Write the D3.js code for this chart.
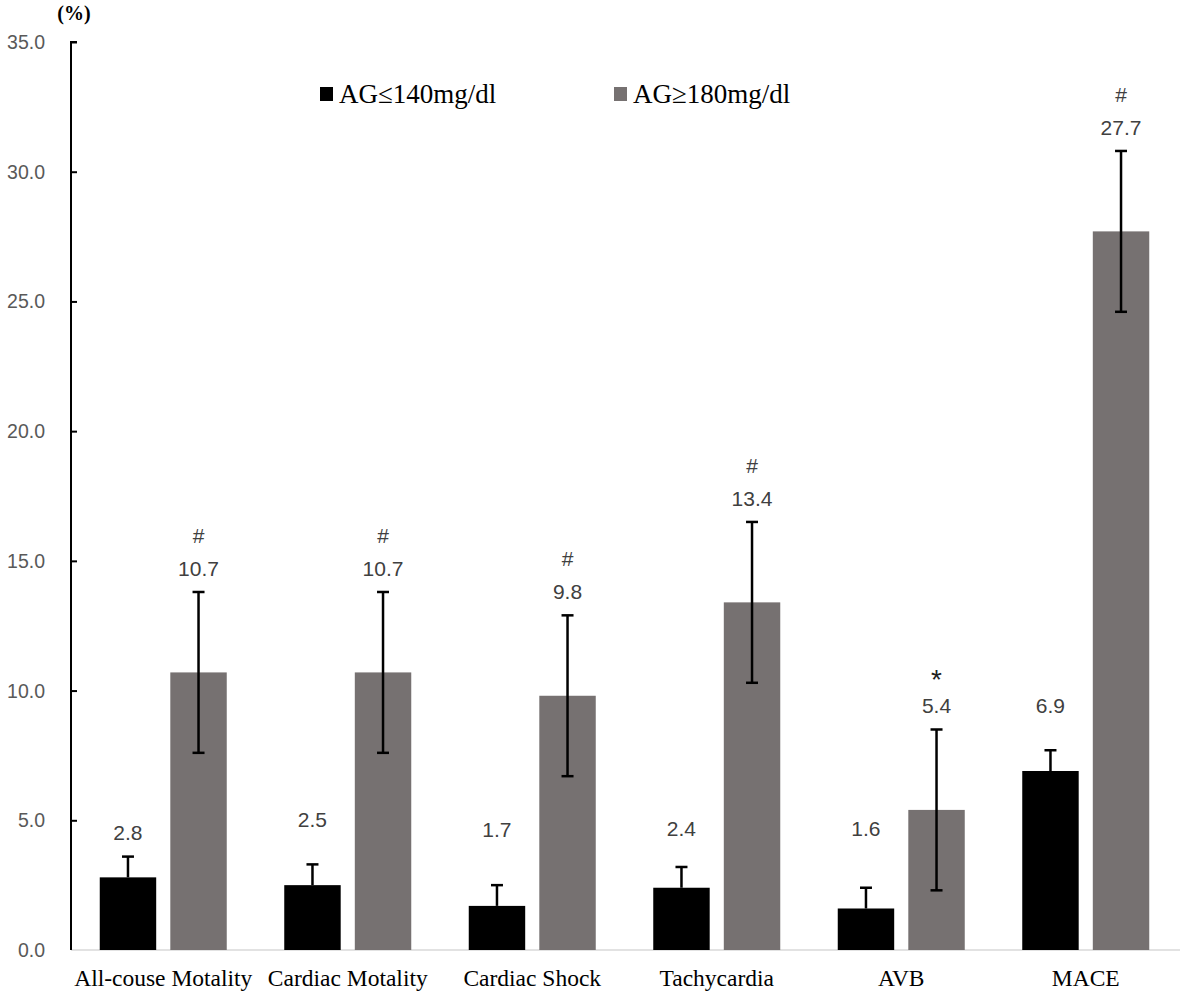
<!DOCTYPE html>
<html>
<head>
<meta charset="utf-8">
<script src="https://cdn.jsdelivr.net/npm/d3@7"></script>
<style>
  html, body { margin: 0; padding: 0; background: #fff; }
  svg { display: block; }
</style>
</head>
<body>
<div id="chart"></div>
<script>
// ---- data ----
const categories = ["All-couse Motality", "Cardiac Motality", "Cardiac Shock", "Tachycardia", "AVB", "MACE"];
const seriesNames = ["AG\u2264140mg/dl", "AG\u2265180mg/dl"];
const lowValues  = [2.8, 2.5, 1.7, 2.4, 1.6, 6.9];
const highValues = [10.7, 10.7, 9.8, 13.4, 5.4, 27.7];
const lowErrors  = [0.8, 0.8, 0.8, 0.8, 0.8, 0.8];
const highErrors = [3.1, 3.1, 3.1, 3.1, 3.1, 3.1];
const highMarks  = ["#", "#", "#", "#", "*", "#"];
// where the value labels of the low group sit (in % units)
const lowLabelAt = [4.55, 5.05, 4.63, 4.7, 4.7, 9.44];
const yTicks = [0, 5, 10, 15, 20, 25, 30, 35];

// ---- layout ----
const W = 1181, H = 995;
const svg = d3.select("#chart").append("svg").attr("width", W).attr("height", H);

const x = d3.scaleBand().domain(categories).range([71, 1178]).paddingInner(0).paddingOuter(0);
const bw = x.bandwidth();
const x1 = d3.scaleBand().domain(seriesNames).range([bw / 2 - 63.5, bw / 2 + 63.5]).paddingInner(0.2).paddingOuter(0);
const y = d3.scaleLinear().domain([0, 35]).range([950, 42]);
const colors = ["#000000", "#767171"];

// baseline
svg.append("line").attr("x1", 71).attr("x2", 1180).attr("y1", y(0)).attr("y2", y(0))
  .attr("stroke", "#d9d9d9").attr("stroke-width", 1.5);

// y axis
const yAxis = d3.axisRight(y).tickValues(yTicks).tickSize(6).tickFormat("");
const gy = svg.append("g").attr("transform", "translate(71,0)").call(yAxis);
gy.select(".domain").attr("stroke", "#000").attr("stroke-width", 2).attr("d", `M6,${y(35)}H0V${y(0)}`);
gy.selectAll(".tick line").attr("stroke", "#000").attr("stroke-width", 2);
gy.selectAll(".tick").filter(d => d === 0).select("line").remove();

// tick labels
svg.append("g").selectAll("text").data(yTicks).join("text")
  .attr("x", 45).attr("y", d => y(d)).attr("dy", "0.36em")
  .attr("text-anchor", "end")
  .attr("font-family", "Liberation Sans, Arial, sans-serif")
  .attr("font-size", 19.5)
  .attr("fill", "#595959")
  .text(d => d3.format(".1f")(d));

// (%) unit
svg.append("text").attr("x", 74).attr("y", 20).attr("text-anchor", "middle")
  .attr("font-family", "Liberation Serif, Times New Roman, serif")
  .attr("font-weight", "bold").attr("font-size", 20).attr("fill", "#000")
  .text("(%)");

// bars
const rows = categories.map((c, i) => ({
  cat: c, i,
  vals: [
    { s: seriesNames[0], v: lowValues[i], e: lowErrors[i], k: 0 },
    { s: seriesNames[1], v: highValues[i], e: highErrors[i], k: 1 }
  ]
}));

const groups = svg.append("g").selectAll("g").data(rows).join("g")
  .attr("transform", d => `translate(${x(d.cat)},0)`);

groups.selectAll("rect").data(d => d.vals).join("rect")
  .attr("x", d => x1(d.s)).attr("width", x1.bandwidth())
  .attr("y", d => y(d.v)).attr("height", d => y(0) - y(d.v))
  .attr("fill", d => colors[d.k]);

// error bars
const capW = 12;
groups.selectAll("g.err").data(d => d.vals).join("g").attr("class", "err")
  .each(function (d) {
    const g = d3.select(this);
    const cx = x1(d.s) + x1.bandwidth() / 2;
    const lo = d.k === 0 ? d.v : d.v - d.e;
    g.append("line").attr("x1", cx).attr("x2", cx).attr("y1", y(lo)).attr("y2", y(d.v + d.e))
      .attr("stroke", "#000").attr("stroke-width", 2.5);
    g.append("line").attr("x1", cx - capW / 2).attr("x2", cx + capW / 2)
      .attr("y1", y(d.v + d.e)).attr("y2", y(d.v + d.e))
      .attr("stroke", "#000").attr("stroke-width", 2.5);
    if (d.k === 1) {
      g.append("line").attr("x1", cx - capW / 2).attr("x2", cx + capW / 2)
        .attr("y1", y(lo)).attr("y2", y(lo))
        .attr("stroke", "#000").attr("stroke-width", 2.5);
    }
  });

// value labels
const valueFont = "Liberation Sans, Arial, sans-serif";
groups.each(function (d) {
  const g = d3.select(this);
  const cLow = x1(seriesNames[0]) + x1.bandwidth() / 2;
  const cHigh = x1(seriesNames[1]) + x1.bandwidth() / 2;
  g.append("text").attr("x", cLow).attr("y", y(lowLabelAt[d.i])).attr("dy", "0.36em")
    .attr("text-anchor", "middle").attr("font-family", valueFont).attr("font-size", 21)
    .attr("fill", "#404040").text(d3.format(".1f")(lowValues[d.i]));
  const hy = y(highValues[d.i] + highErrors[d.i]) - 24;
  g.append("text").attr("x", cHigh).attr("y", hy).attr("dy", "0.36em")
    .attr("text-anchor", "middle").attr("font-family", valueFont).attr("font-size", 21)
    .attr("fill", "#404040").text(d3.format(".1f")(highValues[d.i]));
  const isStar = highMarks[d.i] === "*";
  g.append("text").attr("x", cHigh).attr("y", hy - 33 + (isStar ? 6 : 0)).attr("dy", "0.36em")
    .attr("text-anchor", "middle").attr("font-family", valueFont)
    .attr("font-size", isStar ? 28 : 21)
    .attr("fill", isStar ? "#202020" : "#404040").text(highMarks[d.i]);
});

// category labels
svg.append("g").selectAll("text").data(categories).join("text")
  .attr("x", d => x(d) + bw / 2).attr("y", 986)
  .attr("text-anchor", "middle")
  .attr("font-family", "Liberation Serif, Times New Roman, serif")
  .attr("font-size", 23.5).attr("fill", "#000")
  .text(d => d);

// legend
const legendX = [320, 614];
const lg = svg.append("g").selectAll("g").data(seriesNames).join("g")
  .attr("transform", (d, i) => `translate(${legendX[i]},0)`);
lg.append("rect").attr("x", 0).attr("y", 87).attr("width", 13).attr("height", 14)
  .attr("fill", (d, i) => colors[i]);
lg.append("text").attr("x", 19).attr("y", 103)
  .attr("font-family", "Liberation Serif, Times New Roman, serif")
  .attr("font-size", 27).attr("fill", "#000")
  .text(d => d);
</script>
</body>
</html>
